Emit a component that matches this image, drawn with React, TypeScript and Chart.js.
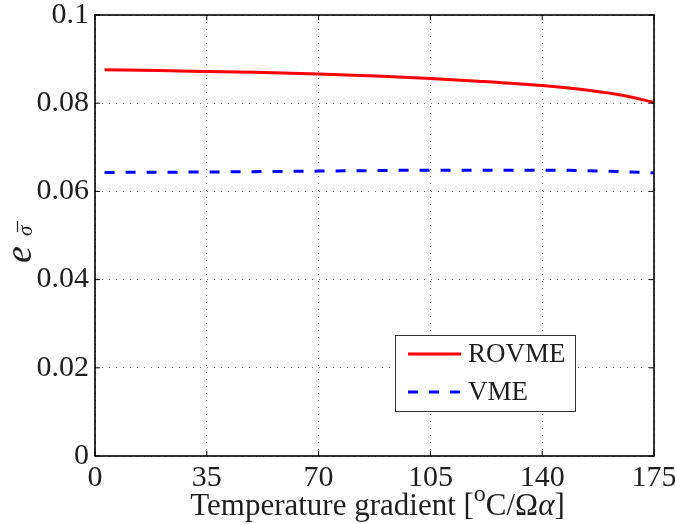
import React, { useEffect, useRef } from "react";
import { Chart, registerables } from "chart.js";

Chart.register(...registerables);

const rovmeX = [3, 20, 35, 50, 70, 90, 105, 120, 140, 155, 165, 175];
const rovmeY = [0.0876, 0.0874, 0.0872, 0.087, 0.0866, 0.0861, 0.0856, 0.085, 0.084, 0.0829, 0.0818, 0.0802];
const vmeX = [3, 35, 70, 105, 140, 160, 175];
const vmeY = [0.0643, 0.0644, 0.0646, 0.0648, 0.0648, 0.0646, 0.0642];
const xTicks = [0, 35, 70, 105, 140, 175];
const yTicks = [0, 0.02, 0.04, 0.06, 0.08, 0.1];
const legendLabels = ["ROVME", "VME"];

const FONT = "'Liberation Serif', 'Times New Roman', serif";
const TEXT = "#1e1e1e";

const decorPlugin = {
  id: "decor",
  afterDraw(chart: any) {
    const { ctx, chartArea } = chart;
    const { left, right, top, bottom } = chartArea;
    const xs = chart.scales.x;
    const ys = chart.scales.y;
    ctx.save();
    // box
    ctx.strokeStyle = "#000";
    ctx.lineWidth = 1.6;
    ctx.strokeRect(left, top, right - left, bottom - top);
    // inner ticks
    ctx.lineWidth = 1;
    ctx.beginPath();
    xTicks.forEach((t) => {
      const px = xs.getPixelForValue(t);
      ctx.moveTo(px, bottom);
      ctx.lineTo(px, bottom - 5);
      ctx.moveTo(px, top);
      ctx.lineTo(px, top + 5);
    });
    yTicks.forEach((t) => {
      const py = ys.getPixelForValue(t);
      ctx.moveTo(left, py);
      ctx.lineTo(left + 5, py);
      ctx.moveTo(right, py);
      ctx.lineTo(right - 5, py);
    });
    ctx.stroke();

    // legend
    const lx = right - 259;
    const ly = bottom - 121;
    const lw = 180;
    const lh = 76;
    ctx.fillStyle = "#fff";
    ctx.fillRect(lx, ly, lw, lh);
    ctx.strokeStyle = "#333";
    ctx.lineWidth = 1;
    ctx.strokeRect(lx + 0.5, ly + 0.5, lw, lh);
    const ds = chart.data.datasets;
    const rows = [ly + 19, ly + 57];
    legendLabels.forEach((lab, i) => {
      ctx.beginPath();
      ctx.strokeStyle = ds[i].borderColor;
      ctx.lineWidth = 3;
      ctx.setLineDash(ds[i].borderDash || []);
      ctx.moveTo(lx + 13, rows[i]);
      ctx.lineTo(lx + 66, rows[i]);
      ctx.stroke();
      ctx.setLineDash([]);
      ctx.fillStyle = TEXT;
      ctx.font = `27px ${FONT}`;
      ctx.textBaseline = "middle";
      ctx.textAlign = "left";
      ctx.fillText(lab, lx + 73, rows[i] + 1);
    });

    // x title
    const cx = (left + right) / 2 + 3;
    const by = bottom + 59;
    const parts: [string, string, number][] = [
      ["Temperature gradient [", `31px ${FONT}`, 0],
      ["o", `24px ${FONT}`, -14],
      ["C/\u03A9", `31px ${FONT}`, 0],
      ["\u03B1", `italic 31px ${FONT}`, 0],
      ["]", `31px ${FONT}`, 0],
    ];
    let total = 0;
    parts.forEach(([s, f]) => {
      ctx.font = f;
      total += ctx.measureText(s).width;
    });
    let x0 = cx - total / 2;
    ctx.fillStyle = TEXT;
    ctx.textBaseline = "alphabetic";
    ctx.textAlign = "left";
    parts.forEach(([s, f, dy]) => {
      ctx.font = f;
      ctx.fillText(s, x0, by + dy);
      x0 += ctx.measureText(s).width;
    });

    // y title
    ctx.save();
    ctx.translate(31, 263);
    ctx.rotate(-Math.PI / 2);
    ctx.font = `italic 38px ${FONT}`;
    ctx.fillStyle = TEXT;
    ctx.fillText("e", 0, 0);
    ctx.font = `italic 21px ${FONT}`;
    ctx.fillText("\u03C3", 27, 1);
    ctx.beginPath();
    ctx.lineWidth = 1.2;
    ctx.strokeStyle = TEXT;
    ctx.moveTo(31, -13.5);
    ctx.lineTo(42, -13.5);
    ctx.stroke();
    ctx.restore();

    ctx.restore();
  },
};

export default function App() {
  const ref = useRef<HTMLCanvasElement>(null);
  useEffect(() => {
    if (!ref.current) return;
    const chart = new Chart(ref.current, {
      type: "line",
      data: {
        datasets: [
          {
            label: legendLabels[0],
            data: rovmeX.map((x, i) => ({ x, y: rovmeY[i] })),
            borderColor: "#ff0000",
            borderWidth: 3,
            pointRadius: 0,
            tension: 0.4,
            cubicInterpolationMode: "monotone",
            fill: false,
          },
          {
            label: legendLabels[1],
            data: vmeX.map((x, i) => ({ x, y: vmeY[i] })),
            borderColor: "#0000ff",
            borderWidth: 3,
            borderDash: [10, 11],
            pointRadius: 0,
            tension: 0.4,
            cubicInterpolationMode: "monotone",
            fill: false,
          },
        ],
      },
      options: {
        responsive: false,
        animation: false,
        layout: { padding: { top: 15, right: 21, left: 0, bottom: 0 } },
        plugins: { legend: { display: false }, tooltip: { enabled: false } },
        scales: {
          x: {
            type: "linear",
            min: 0,
            max: 175,
            afterFit: (s: any) => {
              s.height = 68;
              s.paddingLeft = 0;
              s.paddingRight = 0;
            },
            afterBuildTicks: (s: any) => {
              s.ticks = xTicks.map((v) => ({ value: v }));
            },
            ticks: {
              font: { family: FONT, size: 30 },
              color: TEXT,
              padding: 4,
              maxRotation: 0,
              callback: (v: any) => String(v),
            },
            grid: {
              color: "rgba(0,0,0,0.6)",
              lineWidth: 1,
              drawTicks: false,
            },
            border: { display: false, dash: [1, 6] },
          },
          y: {
            min: 0,
            max: 0.1,
            afterFit: (s: any) => {
              s.width = 95;
              s.paddingTop = 0;
              s.paddingBottom = 0;
            },
            afterBuildTicks: (s: any) => {
              s.ticks = yTicks.map((v) => ({ value: v }));
            },
            ticks: {
              font: { family: FONT, size: 30 },
              color: TEXT,
              padding: 6,
              callback: (v: any) => String(Math.round(v * 100) / 100),
            },
            grid: {
              color: "rgba(0,0,0,0.6)",
              lineWidth: 1,
              drawTicks: false,
            },
            border: { display: false, dash: [1, 6] },
          },
        },
      },
      plugins: [decorPlugin],
    } as any);
    return () => chart.destroy();
  }, []);
  return (
    <div style={{ position: "fixed", left: 0, top: 0, width: 675, height: 524, background: "#fff" }}>
      <canvas ref={ref} width={675} height={524} />
    </div>
  );
}
